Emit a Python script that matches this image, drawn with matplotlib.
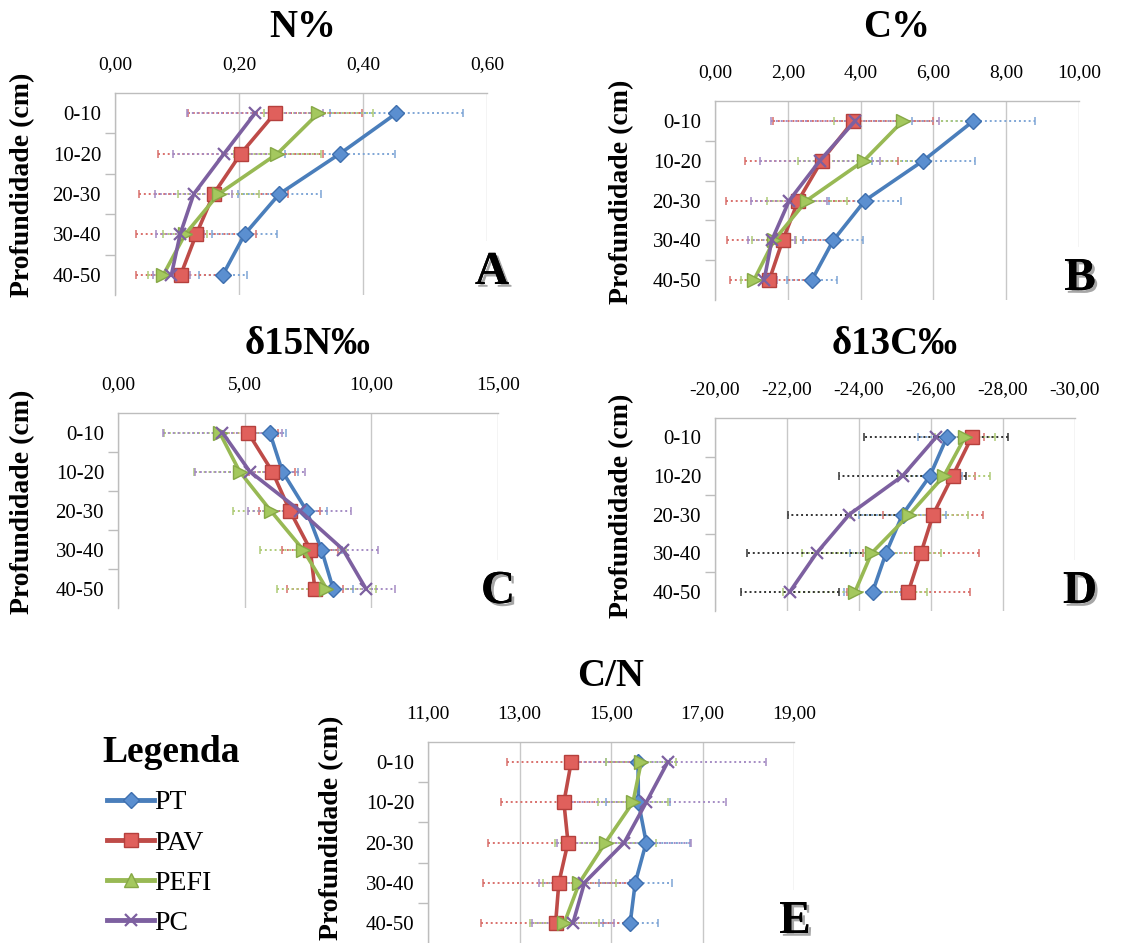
import matplotlib
matplotlib.use("Agg")
import matplotlib.pyplot as plt
import matplotlib.patheffects as pe
from matplotlib.lines import Line2D
import numpy as np

plt.rcParams['font.family'] = ['Liberation Serif', 'DejaVu Serif']

depths = ["0-10", "10-20", "20-30", "30-40", "40-50"]
series = ["PT", "PAV", "PEFI", "PC"]

# N%
n_pt = [0.454, 0.363, 0.265, 0.209, 0.174]
n_pav = [0.258, 0.203, 0.159, 0.131, 0.106]
n_pefi = [0.328, 0.262, 0.167, 0.113, 0.078]
n_pc = [0.226, 0.176, 0.127, 0.105, 0.091]
n_pt_err = [0.107, 0.089, 0.067, 0.052, 0.039]
n_pav_err = [0.140, 0.133, 0.120, 0.097, 0.072]
n_pefi_err = [0.088, 0.070, 0.066, 0.035, 0.025]
n_pc_err = [0.110, 0.082, 0.062, 0.039, 0.030]
n_ticks = [0.0, 0.2, 0.4, 0.6]

# C%
c_pt = [7.10, 5.72, 4.12, 3.25, 2.66]
c_pav = [3.80, 2.93, 2.29, 1.86, 1.49]
c_pefi = [5.16, 4.09, 2.52, 1.62, 1.07]
c_pc = [3.85, 2.88, 2.04, 1.56, 1.35]
c_pt_err = [1.69, 1.42, 1.00, 0.82, 0.68]
c_pav_err = [2.20, 2.10, 1.98, 1.52, 1.08]
c_pefi_err = [1.90, 1.80, 1.10, 0.60, 0.35]
c_pc_err = [2.30, 1.64, 1.05, 0.65, 0.35]
c_ticks = [0.0, 2.0, 4.0, 6.0, 8.0, 10.0]

# d15N
d15_pt = [5.99, 6.49, 7.44, 8.03, 8.49]
d15_pav = [5.13, 6.09, 6.78, 7.59, 7.77]
d15_pefi = [4.01, 4.80, 6.02, 7.30, 8.23]
d15_pc = [4.12, 5.20, 7.17, 8.88, 9.78]
d15_pt_err = [0.66, 0.60, 0.80, 0.80, 0.80]
d15_pav_err = [1.20, 0.90, 1.20, 1.10, 1.10]
d15_pefi_err = [2.20, 1.80, 1.48, 1.70, 1.95]
d15_pc_err = [2.34, 2.17, 2.04, 1.38, 1.14]
d15_ticks = [0.0, 5.0, 10.0, 15.0]

# d13C
d13_pt = [-26.44, -25.97, -25.21, -24.75, -24.38]
d13_pav = [-27.13, -26.60, -26.06, -25.72, -25.37]
d13_pefi = [-26.94, -26.36, -25.40, -24.35, -23.89]
d13_pc = [-26.14, -25.21, -23.73, -22.82, -22.08]
d13_pt_err = [0.80, 0.90, 1.20, 1.00, 0.80]
d13_pav_err = [0.35, 0.62, 1.39, 1.60, 1.71]
d13_pefi_err = [0.83, 1.27, 1.64, 1.92, 1.99]
d13_pc_err = [2.00, 1.77, 1.69, 1.92, 1.37]
d13_ticks = [-20.0, -22.0, -24.0, -26.0, -28.0, -30.0]

# C/N
cn_pt = [15.59, 15.60, 15.77, 15.53, 15.42]
cn_pav = [14.13, 13.97, 14.06, 13.86, 13.79]
cn_pefi = [15.66, 15.48, 14.88, 14.31, 13.98]
cn_pc = [16.24, 15.77, 15.29, 14.42, 14.17]
cn_pt_err = [0.70, 0.70, 0.95, 0.80, 0.60]
cn_pav_err = [1.41, 1.38, 1.75, 1.66, 1.63]
cn_pefi_err = [0.76, 0.76, 1.10, 0.80, 0.76]
cn_pc_err = [2.15, 1.74, 1.46, 1.00, 0.90]
cn_ticks = [11.0, 13.0, 15.0, 17.0, 19.0]

line_colors = ["#4A7EBB", "#BE4B48", "#98B954", "#7D60A0"]
err_colors = ["#7FA6D6", "#D9706C", "#AFCB78", "#A58CC4"]
marker_style = [
    dict(marker="D", ms=8, mfc="#5B8FD0", mec="#3E6FAF", mew=1.0),
    dict(marker="s", ms=10, mfc="#E0605C", mec="#B5403D", mew=1.0),
    dict(marker=">", ms=10, mfc="#A4C85E", mec="#86A846", mew=1.0),
    dict(marker="x", ms=9, mfc="none", mec="#7D60A0", mew=1.6),
]

W, H = 1139, 943
fig = plt.figure(figsize=(W / 100, H / 100), dpi=100)


def fmt(v):
    return f"{v:.2f}".replace(".", ",")


def panel(box, vals, errs, ticks, title, title_xy, letter, letter_xy, label_x,
          label_y=0.545, err_override=None):
    left, right, top, bottom = box
    ax = fig.add_axes([left / W, 1 - bottom / H, (right - left) / W, (bottom - top) / H])
    y = np.arange(len(depths))
    for i in range(4):
        ecol = err_colors[i]
        if err_override and i in err_override:
            ecol = err_override[i]
        eb = ax.errorbar(vals[i], y, xerr=errs[i], fmt="none", ecolor=ecol,
                         elinewidth=1.4, capsize=3, capthick=1.1, zorder=2)
        eb[2][0].set_linestyle((0, (1, 1.5)))
        ax.plot(vals[i], y, color=line_colors[i], lw=2.6, zorder=3 + i * 0.1,
                **marker_style[i])
    ax.set_xlim(ticks[0], ticks[-1])
    ax.set_ylim(len(depths) - 0.5, -0.5)
    ax.xaxis.tick_top()
    ax.set_xticks(ticks)
    ax.set_xticklabels([fmt(t) for t in ticks], fontsize=14)
    ax.tick_params(axis="x", length=0, pad=14)
    ax.set_yticks(y)
    ax.set_yticklabels(depths, fontsize=15)
    ax.set_yticks(np.arange(0.5, len(depths) - 0.5, 1.0), minor=True)
    ax.tick_params(axis="y", which="major", length=0, pad=10)
    ax.tick_params(axis="y", which="minor", length=7, color="#BDBDBD", width=1)
    ax.grid(axis="x", color="#C8C8C8", lw=1.0)
    ax.set_axisbelow(True)
    for s in ["right", "bottom"]:
        ax.spines[s].set_visible(False)
    for s in ["top", "left"]:
        ax.spines[s].set_color("#BDBDBD")
        ax.spines[s].set_linewidth(1.0)
    ax.set_ylabel("Profundidade (cm)", fontsize=20, fontweight="bold")
    ax.yaxis.set_label_coords((label_x - left) / (right - left), label_y)
    fig.text(title_xy[0] / W, 1 - title_xy[1] / H, title, fontsize=28,
             fontweight="bold", ha="center", va="baseline")
    fig.text(letter_xy[0] / W, 1 - letter_xy[1] / H, letter, fontsize=34,
             fontweight="bold", ha="center", va="center", zorder=10,
             bbox=dict(facecolor="white", edgecolor="none", pad=8),
             path_effects=[pe.withSimplePatchShadow(offset=(2, -2), alpha=0.35),
                           pe.Normal()])
    return ax


panel((115, 487, 93, 295), [n_pt, n_pav, n_pefi, n_pc],
      [n_pt_err, n_pav_err, n_pefi_err, n_pc_err], n_ticks,
      "N%", (303, 37), "A", (492, 273), 35)
panel((715, 1079, 101, 300), [c_pt, c_pav, c_pefi, c_pc],
      [c_pt_err, c_pav_err, c_pefi_err, c_pc_err], c_ticks,
      "C%", (897, 37), "B", (1080, 279), 634)
panel((118, 498, 413, 608), [d15_pt, d15_pav, d15_pefi, d15_pc],
      [d15_pt_err, d15_pav_err, d15_pefi_err, d15_pc_err], d15_ticks,
      "δ15N‰", (308, 354), "C", (498, 592), 35)
panel((715, 1075, 418, 611), [d13_pt, d13_pav, d13_pefi, d13_pc],
      [d13_pt_err, d13_pav_err, d13_pefi_err, d13_pc_err], d13_ticks,
      "δ13C‰", (895, 354), "D", (1080, 592), 634, err_override={3: "#333333"})
panel((428, 794, 742, 943), [cn_pt, cn_pav, cn_pefi, cn_pc],
      [cn_pt_err, cn_pav_err, cn_pefi_err, cn_pc_err], cn_ticks,
      "C/N", (611, 686), "E", (795, 922), 344, label_y=0.575)

# legend
fig.text(102 / W, 1 - 752 / H, "Legenda", fontsize=27, fontweight="bold",
         ha="left", va="center")
leg_markers = ["D", "s", "^", "x"]
handles = []
for i in range(4):
    st = dict(marker_style[i])
    st["marker"] = leg_markers[i]
    handles.append(Line2D([], [], color=line_colors[i], lw=3.5, **st))
fig.legend(handles, series, loc="upper left", bbox_to_anchor=(93 / W, 1 - 776 / H),
           frameon=False, fontsize=20, handlelength=1.7, handletextpad=0.0,
           labelspacing=0.53, borderpad=0)

fig.savefig("out.png", dpi=100)
